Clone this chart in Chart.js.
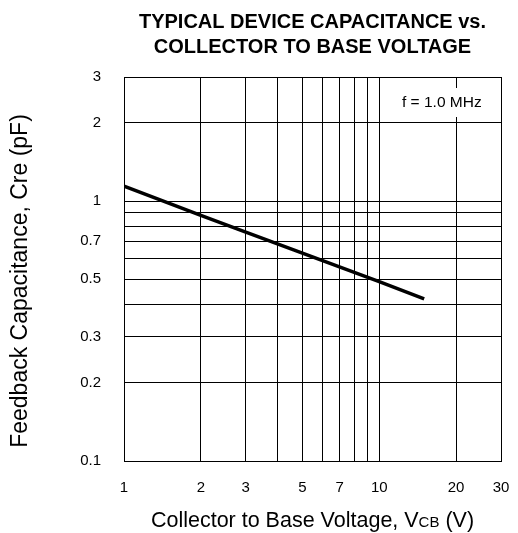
<!DOCTYPE html>
<html>
<head>
    <title>Capacitance vs VCB</title>
    <meta charset="UTF-8">
    <script src="https://cdn.jsdelivr.net/npm/chart.js@4.4.1/dist/chart.umd.min.js"></script>
    <style>
        body { margin: 0; background: #fff; }
    </style>
</head>
<body>
    <canvas id="myChart" width="518" height="533"></canvas>

    <script>
        // curve
        var vcb = [1, 2, 3, 5, 10, 15];
        var cre = [1.14, 0.88, 0.76, 0.63, 0.49, 0.42];

        // grid lines and labelled ticks
        var xGrid = [1, 2, 3, 4, 5, 6, 7, 8, 9, 10, 20, 30];
        var xLabels = [1, 2, 3, 5, 7, 10, 20, 30];
        var yGrid = [0.1, 0.2, 0.3, 0.4, 0.5, 0.6, 0.7, 0.8, 0.9, 1, 2, 3];
        var yLabels = [0.1, 0.2, 0.3, 0.5, 0.7, 1, 2, 3];

        var FONT = "'Liberation Sans', Arial, sans-serif";
        Chart.defaults.font.family = FONT;
        Chart.defaults.color = '#000';

        var points = vcb.map(function (v, i) { return { x: v, y: cre[i] }; });

        var textPlugin = {
            id: 'texts',
            afterDraw: function (chart) {
                var ctx = chart.ctx;
                var area = chart.chartArea;
                var cx = (area.left + area.right) / 2;
                ctx.save();
                ctx.fillStyle = '#000';
                ctx.textBaseline = 'middle';

                // title
                ctx.font = 'bold 20px ' + FONT;
                ctx.textAlign = 'center';
                ctx.fillText('TYPICAL DEVICE CAPACITANCE vs.', cx, 22);
                ctx.fillText('COLLECTOR TO BASE VOLTAGE', cx, 47);

                // note box
                ctx.fillStyle = '#fff';
                ctx.fillRect(397, 88, 94, 29);
                ctx.fillStyle = '#000';
                ctx.font = '15.5px ' + FONT;
                ctx.textAlign = 'left';
                ctx.fillText('f = 1.0 MHz', 402, 103);

                // x axis title with small "CB"
                var a = 'Collector to Base Voltage, V', b = 'CB', c = ' (V)';
                ctx.font = '21.5px ' + FONT;
                var wa = ctx.measureText(a).width, wc = ctx.measureText(c).width;
                ctx.font = '15px ' + FONT;
                var wb = ctx.measureText(b).width;
                var x0 = cx - (wa + wb + wc) / 2;
                ctx.font = '21.5px ' + FONT;
                ctx.fillText(a, x0, 521);
                ctx.font = '15px ' + FONT;
                ctx.fillText(b, x0 + wa, 523);
                ctx.font = '21.5px ' + FONT;
                ctx.fillText(c, x0 + wa + wb, 521);

                // y axis title
                ctx.translate(21, 281);
                ctx.rotate(-Math.PI / 2);
                ctx.textAlign = 'center';
                ctx.font = '23px ' + FONT;
                ctx.fillText('Feedback Capacitance, Cre (pF)', 0, 0);
                ctx.restore();
            }
        };

        var ctx = document.getElementById('myChart');
        var myChart = new Chart(ctx, {
            type: 'line',
            data: {
                datasets: [{
                    data: points,
                    borderColor: '#000',
                    borderWidth: 3.5,
                    pointRadius: 0,
                    tension: 0,
                    fill: false
                }]
            },
            options: {
                responsive: false,
                animation: false,
                layout: { padding: { top: 77, right: 17, left: 0, bottom: 0 } },
                plugins: {
                    legend: { display: false },
                    tooltip: { enabled: false }
                },
                scales: {
                    x: {
                        type: 'logarithmic',
                        min: 1,
                        max: 30,
                        afterBuildTicks: function (scale) {
                            scale.ticks = xGrid.map(function (v) { return { value: v }; });
                        },
                        afterFit: function (scale) {
                            scale.height = 72;
                            scale.paddingLeft = 0;
                            scale.paddingRight = 0;
                        },
                        grid: { color: '#000', lineWidth: 1, drawTicks: false },
                        border: { color: '#000', width: 1 },
                        ticks: {
                            autoSkip: false,
                            maxRotation: 0,
                            padding: 18,
                            font: { size: 15 },
                            callback: function (value) {
                                return xLabels.indexOf(value) >= 0 ? String(value) : '';
                            }
                        }
                    },
                    y: {
                        type: 'logarithmic',
                        min: 0.1,
                        max: 3,
                        afterBuildTicks: function (scale) {
                            scale.ticks = yGrid.map(function (v) { return { value: v }; });
                        },
                        afterFit: function (scale) {
                            scale.width = 124;
                            scale.paddingTop = 0;
                            scale.paddingBottom = 0;
                        },
                        grid: { color: '#000', lineWidth: 1, drawTicks: false },
                        border: { color: '#000', width: 1 },
                        ticks: {
                            autoSkip: false,
                            padding: 23,
                            font: { size: 15 },
                            callback: function (value) {
                                return yLabels.indexOf(value) >= 0 ? String(value) : '';
                            }
                        }
                    }
                }
            },
            plugins: [textPlugin]
        });
    </script>
</body>
</html>
